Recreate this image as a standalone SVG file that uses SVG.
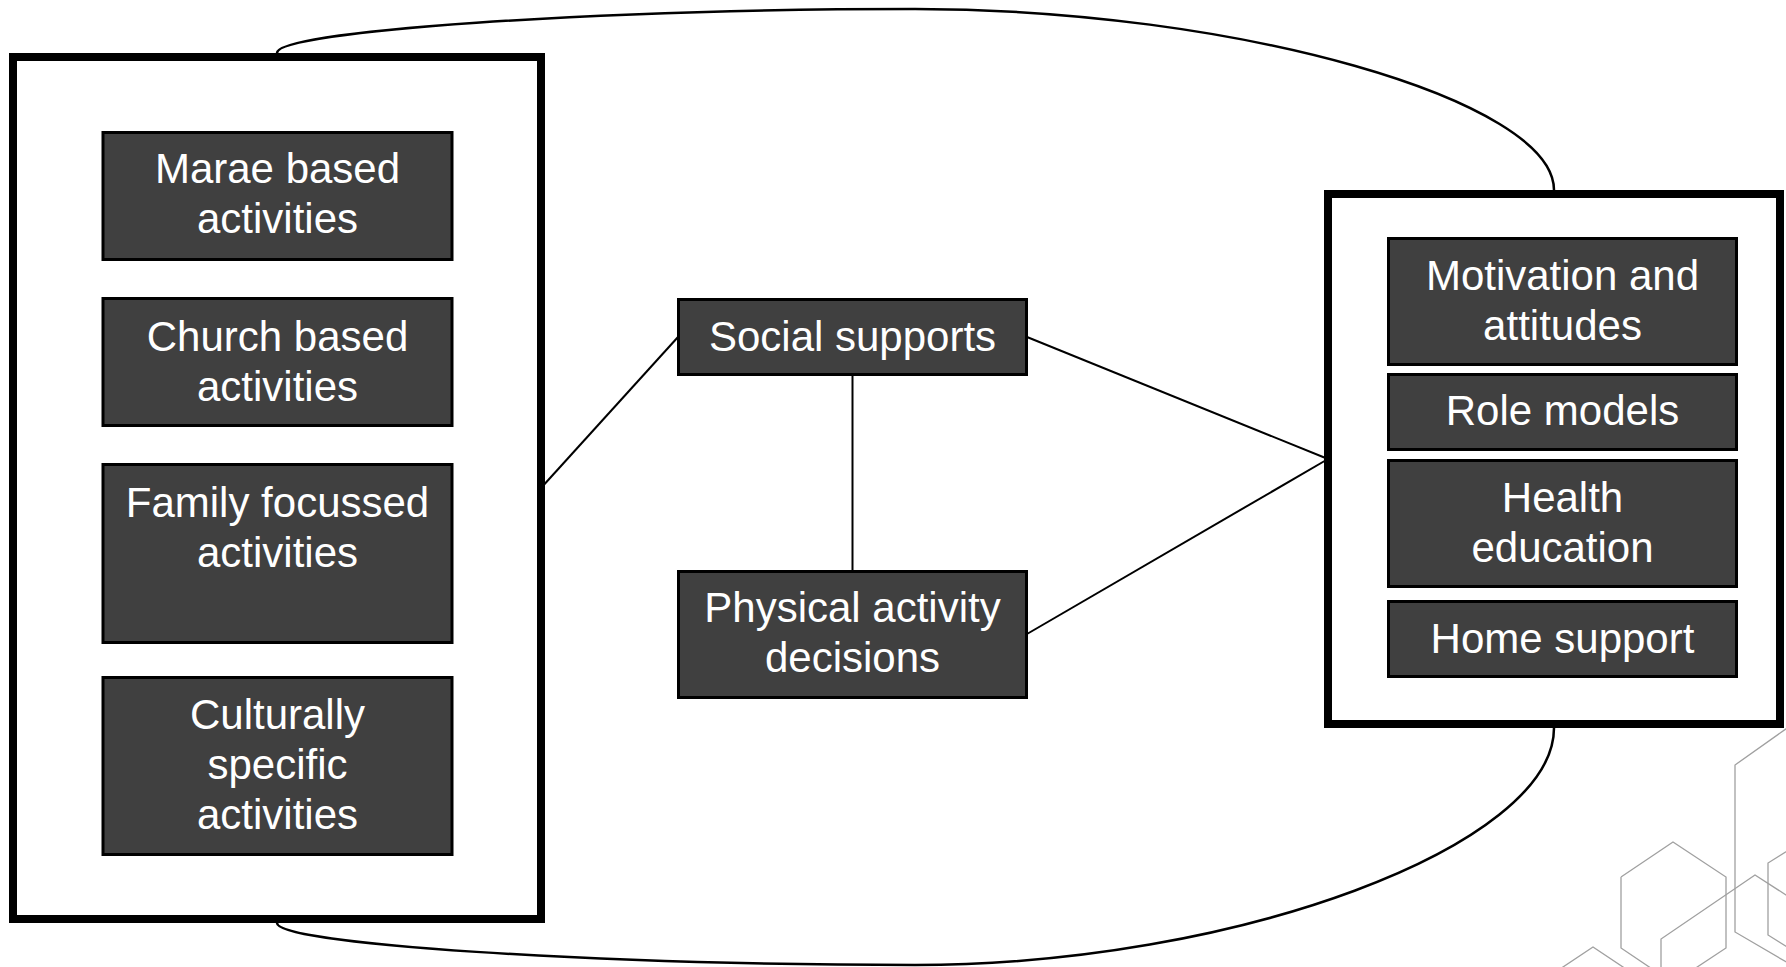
<svg xmlns="http://www.w3.org/2000/svg" width="1786" height="967" viewBox="0 0 1786 967">
  <style>
    .frame { fill: #ffffff; stroke: #000000; stroke-width: 8; }
    .box { fill: #404040; stroke: #000000; stroke-width: 3; }
    .lbl { fill: #ffffff; font-family: "Liberation Sans", Arial, sans-serif; font-size: 42px; text-anchor: middle; }
    .conn { fill: none; stroke: #000000; stroke-width: 2; }
    .curve { fill: none; stroke: #000000; stroke-width: 2.5; }
    .hex { fill: none; stroke: #a0a0a0; stroke-width: 1.3; }
  </style>
  <rect x="0" y="0" width="1786" height="967" fill="#ffffff"/>

  <g id="decoration">
    <polyline class="hex" points="1621,877 1673,842 1726,877 1726,948 1673,983 1621,948 1621,877"/>
    <polyline class="hex" points="1800,719 1735,765 1735,932 1800,970"/>
    <polyline class="hex" points="1661,980 1661,939 1755,875 1800,904"/>
    <polyline class="hex" points="1800,843 1768,863 1768,935 1800,955"/>
    <polyline class="hex" points="1548,977 1593,947 1638,977"/>
  </g>

  <g id="connectors">
    <path class="curve" d="M277,53 C277,31 596,9 915,9 C1235,9 1554,100 1554,190"/>
    <path class="curve" d="M277,923 C277,944 596,965 915,965 C1235,965 1554,846 1554,728"/>
    <line class="conn" x1="541" y1="488" x2="678" y2="337"/>
    <line class="conn" x1="1027" y1="337" x2="1328" y2="459"/>
    <line class="conn" x1="1027" y1="634" x2="1328" y2="459"/>
    <line class="conn" x1="852.5" y1="376" x2="852.5" y2="571"/>
  </g>

  <g id="left-group">
    <rect class="frame" x="13" y="57" width="528" height="862"/>
  </g>
  <g id="marae">
    <rect class="box" x="103" y="132.5" width="349" height="127"/>
    <text class="lbl" x="277.5" y="183">Marae based</text>
    <text class="lbl" x="277.5" y="233">activities</text>
  </g>
  <g id="church">
    <rect class="box" x="103" y="298.5" width="349" height="127"/>
    <text class="lbl" x="277.5" y="351">Church based</text>
    <text class="lbl" x="277.5" y="401">activities</text>
  </g>
  <g id="family">
    <rect class="box" x="103" y="464.5" width="349" height="178"/>
    <text class="lbl" x="277.5" y="517">Family focussed</text>
    <text class="lbl" x="277.5" y="567">activities</text>
  </g>
  <g id="cultural">
    <rect class="box" x="103" y="677.5" width="349" height="177"/>
    <text class="lbl" x="277.5" y="729">Culturally</text>
    <text class="lbl" x="277.5" y="779">specific</text>
    <text class="lbl" x="277.5" y="829">activities</text>
  </g>

  <g id="social">
    <rect class="box" x="678.5" y="299.5" width="348" height="75"/>
    <text class="lbl" x="852.5" y="351">Social supports</text>
  </g>
  <g id="decisions">
    <rect class="box" x="678.5" y="571.5" width="348" height="126"/>
    <text class="lbl" x="852.5" y="622">Physical activity</text>
    <text class="lbl" x="852.5" y="672">decisions</text>
  </g>

  <g id="right-group">
    <rect class="frame" x="1328" y="194" width="452" height="530"/>
  </g>
  <g id="motivation">
    <rect class="box" x="1388.5" y="238.5" width="348" height="126"/>
    <text class="lbl" x="1562.5" y="290">Motivation and</text>
    <text class="lbl" x="1562.5" y="340">attitudes</text>
  </g>
  <g id="role">
    <rect class="box" x="1388.5" y="374.5" width="348" height="75"/>
    <text class="lbl" x="1562.5" y="425">Role models</text>
  </g>
  <g id="health">
    <rect class="box" x="1388.5" y="460.5" width="348" height="126"/>
    <text class="lbl" x="1562.5" y="512">Health</text>
    <text class="lbl" x="1562.5" y="562">education</text>
  </g>
  <g id="home">
    <rect class="box" x="1388.5" y="601.5" width="348" height="75"/>
    <text class="lbl" x="1562.5" y="653">Home support</text>
  </g>
</svg>
